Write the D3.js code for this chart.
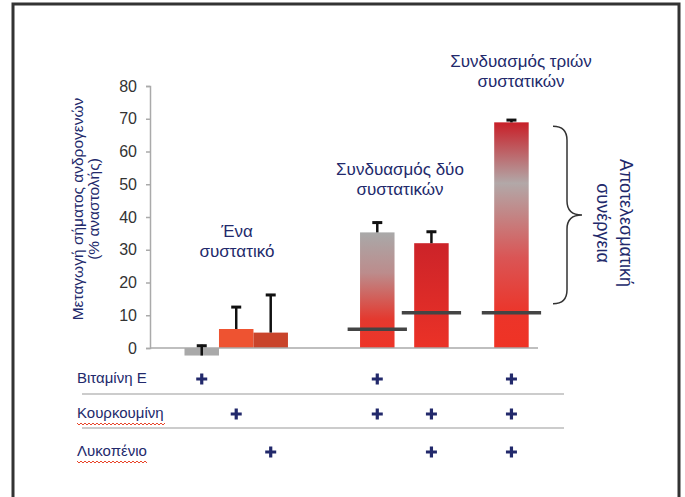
<!DOCTYPE html>
<html>
<head>
<meta charset="utf-8">
<script src="https://cdn.jsdelivr.net/npm/d3@7/dist/d3.min.js"></script>
<style>
  html, body { margin: 0; padding: 0; background: #fff; }
  svg { display: block; font-family: "Liberation Sans", Arial, sans-serif; }
</style>
</head>
<body>
<div id="chart"></div>
<script>
// Δεδομένα (εκτίμηση από την εικόνα)
const barKeys = ['E', 'C', 'L', 'E+C', 'C+L', 'E+C+L'];
const barValues = [-2.3, 5.8, 4.7, 35.3, 32.0, 68.9];
const errorTops = [1.0, 12.8, 16.5, 38.6, 35.8, 69.9];
const additiveValues = [null, null, null, 5.7, 10.8, 10.8];
const yTicks = [0, 10, 20, 30, 40, 50, 60, 70, 80];
const ingredientKeys = ['E', 'C', 'L'];
const ingredientNames = ['Βιταμίνη Ε', 'Κουρκουμίνη', 'Λυκοπένιο'];
const groupLabels = [['Ένα', 'συστατικό'], ['Συνδυασμός δύο', 'συστατικών'], ['Συνδυασμός τριών', 'συστατικών']];
const synergyLabel = ['Αποτελεσματική', 'συνέργεια'];
const yTitle = ['Μεταγωγή σήματος ανδρογενών', '(% αναστολής)'];

const W = 685, H = 497;
const navy = '#22296b';

// θέσεις ράβδων σε "πλάτη ράβδου"
const barSlot = [0, 1, 2, 5.09, 6.66, 8.98];
const fills = ['#a9a9a9', '#ee5331', '#c9442b', 'url(#g3)', 'url(#g4)', 'url(#g5)'];

const svg = d3.select('#chart').append('svg')
    .attr('width', W).attr('height', H);

// Πλαίσιο
svg.append('rect')
    .attr('x', 13).attr('y', 4).attr('width', 666).attr('height', 520)
    .attr('fill', '#fff').attr('stroke', '#333').attr('stroke-width', 3);

// Διαβαθμίσεις
const defs = svg.append('defs');
const grads = {
    g3: [[0, '#a9a9a9'], [0.35, '#bc8c8c'], [0.75, '#e4392f'], [1, '#ee3427']],
    g4: [[0, '#cc2329'], [1, '#eb3227']],
    g5: [[0, '#c81f28'], [0.27, '#b2a8a8'], [0.6, '#da5555'], [0.85, '#ec3429'], [1, '#ef3325']]
};
Object.entries(grads).forEach(([id, stops]) => {
    const g = defs.append('linearGradient').attr('id', id)
        .attr('x1', 0).attr('y1', 0).attr('x2', 0).attr('y2', 1);
    stops.forEach(s => g.append('stop').attr('offset', s[0]).attr('stop-color', s[1]));
});

// Κλίμακες
const x = d3.scaleLinear().domain([-1.5, 9.75]).range([150, 538]);
const y = d3.scaleLinear().domain([0, 80]).range([348, 86]);
const bw = x(1) - x(0);

const data = barKeys.map((k, i) => ({
    key: k, value: barValues[i], top: errorTops[i], add: additiveValues[i],
    cx: x(barSlot[i]), fill: fills[i]
}));

// Άξονας Υ
const yAxis = svg.append('g')
    .attr('transform', `translate(${x.range()[0]},0)`)
    .call(d3.axisLeft(y).tickValues(yTicks).tickSize(4).tickPadding(9));
yAxis.select('.domain').attr('stroke', '#aaa').attr('stroke-width', 1.5);
yAxis.selectAll('.tick line').attr('stroke', '#aaa').attr('stroke-width', 1.5);
yAxis.selectAll('.tick text')
    .attr('font-size', '16px').attr('fill', '#333')
    .attr('font-family', '"Liberation Sans", Arial, sans-serif');

// Ράβδοι
svg.selectAll('.bar')
    .data(data)
    .join('rect')
    .attr('class', 'bar')
    .attr('x', d => d.cx - bw / 2)
    .attr('y', d => y(Math.max(0, d.value)))
    .attr('width', bw)
    .attr('height', d => Math.abs(y(d.value) - y(0)))
    .attr('fill', d => d.fill);

// Άξονας Χ (γραμμή βάσης)
svg.append('line')
    .attr('x1', x.range()[0]).attr('x2', x.range()[1])
    .attr('y1', y(0)).attr('y2', y(0))
    .attr('stroke', '#aaa').attr('stroke-width', 1.5);

// Μπάρες σφάλματος
const err = svg.append('g').attr('stroke', '#111');
err.selectAll('.err-line')
    .data(data)
    .join('line')
    .attr('x1', d => d.cx).attr('x2', d => d.cx)
    .attr('y1', d => y(d.value)).attr('y2', d => y(d.top))
    .attr('stroke-width', 2.5);
err.selectAll('.err-cap')
    .data(data)
    .join('line')
    .attr('x1', d => d.cx - 5).attr('x2', d => d.cx + 5)
    .attr('y1', d => y(d.top) + 1).attr('y2', d => y(d.top) + 1)
    .attr('stroke-width', 3);

// Αναμενόμενη (αθροιστική) τιμή
svg.selectAll('.add-line')
    .data(data.filter(d => d.add != null))
    .join('line')
    .attr('x1', d => d.cx - bw * 0.86).attr('x2', d => d.cx + bw * 0.86)
    .attr('y1', d => y(d.add)).attr('y2', d => y(d.add))
    .attr('stroke', '#444').attr('stroke-width', 3.5);

// Ετικέτες ομάδων
const groupPos = [[237, 237, 257], [400, 175, 195], [521, 67, 87]];
groupLabels.forEach((lines, gi) => {
    const t = svg.append('text')
        .attr('text-anchor', 'middle').attr('fill', navy).attr('font-size', '17px');
    lines.forEach((l, li) => {
        t.append('tspan').attr('x', groupPos[gi][0]).attr('y', groupPos[gi][1 + li]).text(l);
    });
});

// Άγκιστρο συνέργειας
const last = data[data.length - 1];
const bTop = y(last.value) + 4, bBot = y(last.add) - 9, bMid = (bTop + bBot) / 2;
const x0 = 553, xm = 567, xt = 582, r = 14;
svg.append('path')
    .attr('d', `M${x0},${bTop} Q${xm},${bTop} ${xm},${bTop + r} L${xm},${bMid - r} Q${xm},${bMid} ${xt},${bMid}
                Q${xm},${bMid} ${xm},${bMid + r} L${xm},${bBot - r} Q${xm},${bBot} ${x0},${bBot}`)
    .attr('fill', 'none').attr('stroke', '#333').attr('stroke-width', 1.5);

const syn = svg.append('text')
    .attr('transform', 'translate(614,223) rotate(90)')
    .attr('text-anchor', 'middle').attr('fill', navy).attr('font-size', '18px');
synergyLabel.forEach((l, i) => syn.append('tspan').attr('x', 0).attr('y', i === 0 ? -5.7 : 17.3).text(l));

// Τίτλος άξονα Υ
const yt = svg.append('text')
    .attr('transform', 'translate(85,209) rotate(-90)')
    .attr('text-anchor', 'middle').attr('fill', navy).attr('font-size', '15.5px');
yTitle.forEach((l, i) => yt.append('tspan').attr('x', 0).attr('y', i === 0 ? -2 : 13.5).text(l));

// Πίνακας συστατικών
const rowYs = [378, 413, 451];
const table = svg.append('g');
ingredientKeys.forEach((k, ri) => {
    const cy = rowYs[ri];
    const label = table.append('text')
        .attr('x', 77).attr('y', cy + 5)
        .attr('fill', navy).attr('font-size', '15px')
        .text(ingredientNames[ri]);
    if (ri > 0) {
        // κόκκινη κυματιστή υπογράμμιση
        const len = label.node().getComputedTextLength();
        let d = `M77,${cy + 10}`;
        for (let px = 77, j = 0; px < 77 + len; px += 2, j++) {
            d += ` L${px + 2},${cy + 10 + (j % 2 ? 0 : 2)}`;
        }
        table.append('path').attr('d', d).attr('fill', 'none')
            .attr('stroke', '#e8452a').attr('stroke-width', 1);
    }
    table.selectAll(null)
        .data(data.filter(d => d.key.split('+').includes(k)))
        .join('path')
        .attr('transform', d => `translate(${d.cx},${cy + 1})`)
        .attr('d', 'M-5.5,0H5.5M0,-5.5V5.5')
        .attr('stroke', navy).attr('stroke-width', 3.2);
});
[394, 428].forEach(ly => {
    table.append('line')
        .attr('x1', 82).attr('x2', 564).attr('y1', ly).attr('y2', ly)
        .attr('stroke', '#bbb').attr('stroke-width', 1.5);
});
</script>
</body>
</html>
